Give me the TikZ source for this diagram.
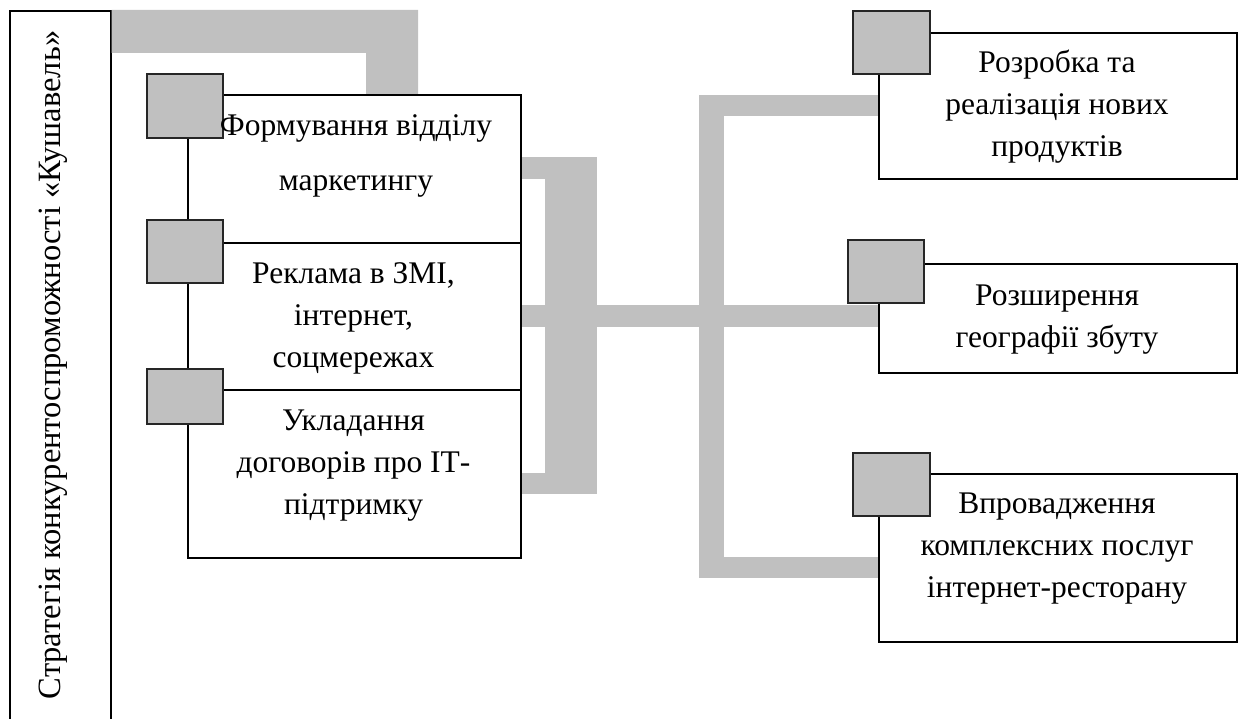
\documentclass[tikz,border=0pt]{standalone}
\usepackage{fontspec}
\setmainfont{Liberation Serif}
\newfontfamily\tnr{Liberation Serif}
\definecolor{barcol}{HTML}{C0C0C0}
\newcommand{\fl}{\rule{0pt}{25pt}}
\begin{document}
\begin{tikzpicture}[x=1pt,y=-1pt,
  box/.style={draw=black, line width=1.6pt, fill=white, inner sep=0pt, anchor=north west},
  sq/.style={draw=black!85, line width=1.6pt, fill=barcol, inner sep=0pt, anchor=north west},
  bar/.style={fill=barcol, draw=none},
  txt/.style={font=\tnr\fontsize{31.5}{42}\selectfont, align=center, inner sep=0pt, anchor=north},
  txtwide/.style={font=\tnr\fontsize{31.5}{55}\selectfont, align=center, inner sep=0pt, anchor=north}]
\useasboundingbox (0,0) rectangle (1241,719);
\clip (0,0) rectangle (1241,719);
\fill[white] (0,0) rectangle (1241,719);

% strategy box
\node[box, minimum width=101pt, minimum height=730pt] (strat) at (9,10) {};
\node[font=\tnr\fontsize{32.5}{38}\selectfont, rotate=90, inner sep=0pt] (strattxt) at (53,365) {Стратегія конкурентоспроможності «Кушавель»};

% left boxes
\node[box, minimum width=333pt, minimum height=148pt] (b1) at (187,94) {};
\node[box, minimum width=333pt, minimum height=147pt] (b2) at (187,242) {};
\node[box, minimum width=333pt, minimum height=168pt] (b3) at (187,389) {};

% right boxes
\node[box, minimum width=358pt, minimum height=146pt] (r1) at (878,32) {};
\node[box, minimum width=358pt, minimum height=109pt] (r2) at (878,263) {};
\node[box, minimum width=358pt, minimum height=168pt] (r3) at (878,473) {};

% grey connectors
\fill[bar] (strat.north east) -- (418,10) -- (418,94) -- (366,94) -- (366,53) -- (strat.east |- 0,53) -- cycle;
\fill[bar] (b1.east |- 0,157) rectangle (597,179);
\fill[bar] (545,157) rectangle (597,494);
\fill[bar] (b3.east |- 0,473) rectangle (597,494);
\fill[bar] (b2.east |- 0,305) rectangle (r2.west |- 0,327);
\fill[bar] (699,95) rectangle (724,578);
\fill[bar] (699,95) rectangle (r1.west |- 0,116);
\fill[bar] (699,557) rectangle (r3.west |- 0,578);

% squares
\node[sq, minimum width=76pt, minimum height=64pt] (s1) at (146,73) {};
\node[sq, minimum width=76pt, minimum height=63pt] (s2) at (146,219) {};
\node[sq, minimum width=76pt, minimum height=55pt] (s3) at (146,368) {};
\node[sq, minimum width=77pt, minimum height=63pt] (t1) at (852,10) {};
\node[sq, minimum width=76pt, minimum height=63pt] (t2) at (847,239) {};
\node[sq, minimum width=77pt, minimum height=63pt] (t3) at (852,452) {};

% texts
\node[txtwide] (b1t) at (356,110) {\fl Формування відділу\\маркетингу};
\node[txt] (b2t) at (353.5,258) {\fl Реклама в ЗМІ,\\інтернет,\\соцмережах};
\node[txt] (b3t) at (353.5,405) {\fl Укладання\\договорів про ІТ-\\підтримку};
\node[txt] (r1t) at (1057,47) {\fl Розробка та\\реалізація нових\\продуктів};
\node[txt] (r2t) at (1057,280) {\fl Розширення\\географії збуту};
\node[txt] (r3t) at (1057,488) {\fl Впровадження\\комплексних послуг\\інтернет-ресторану};
\end{tikzpicture}
\end{document}
